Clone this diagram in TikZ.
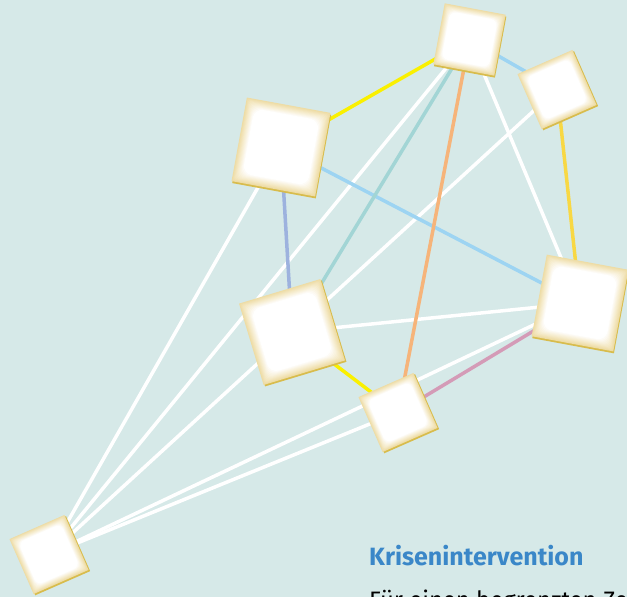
\documentclass[tikz,border=0pt]{standalone}
\usepackage{fontspec}
\setmainfont{Fira Sans}
\definecolor{bgc}{HTML}{D6E9E8}
\definecolor{tilecream}{HTML}{EEDCA4}
\definecolor{tileedge}{HTML}{D8BC4C}
\definecolor{cyel}{HTML}{FAF000}
\definecolor{cgold}{HTML}{F8D844}
\definecolor{cblue}{HTML}{9DD4F2}
\definecolor{cteal}{HTML}{A2D5D5}
\definecolor{corange}{HTML}{F6B47A}
\definecolor{cviolet}{HTML}{9DB2DE}
\definecolor{cpink}{HTML}{D49BB7}
\definecolor{ctitle}{HTML}{3A87C8}
\newcommand\mytile[4]{%
  \begin{scope}[shift={(#1,#2)}, rotate=#3]
    \fill[tileedge] (-#4+1.0,-#4+1.8) rectangle (#4+1.0,#4+1.8);
    \foreach \k in {0,...,12} {
      \pgfmathtruncatemacro\pp{min(100,\k*9)}
      \pgfmathsetmacro\dd{\k*#4/50}
      \fill[white!\pp!tilecream, rounded corners=\dd pt] (-#4+\dd,-#4+\dd) rectangle (#4-\dd,#4-\dd);
    }
  \end{scope}
}
\tikzset{ln/.style={line width=3.5pt}}
\begin{document}
\begin{tikzpicture}[x=1pt,y=-1pt]
\useasboundingbox (0,0) rectangle (627,597);
\clip (0,0) rectangle (627,597);
\fill[bgc] (0,0) rectangle (627,597);
% tile centres
\coordinate (A) at (469.5,39.5);
\coordinate (B) at (557,89.5);
\coordinate (C) at (281,147);
\coordinate (D) at (292,332);
\coordinate (E) at (398,412.5);
\coordinate (F) at (580,303);
\coordinate (G) at (49,554.5);
% connectors
\draw[ln, white] (G) -- (C);
\draw[ln, white] (G) -- (A);
\draw[ln, white] (G) -- (B);
\draw[ln, white] (G) -- (E);
\draw[ln, white] (G) -- (F);
\draw[ln, white] (A) -- (F);
\draw[ln, white] (D) -- (F);
\draw[ln, cblue] (C) -- (F);
\draw[ln, cteal] (A) -- (D);
\draw[ln, corange] (A) -- (E);
\draw[ln, cviolet] (C) -- (D);
\draw[ln, cpink] (E) -- (F);
\draw[ln, cyel] (C) -- (A);
\draw[ln, cyel] (D) -- (E);
\draw[ln, cblue] (A) -- (B);
\draw[ln, cgold] (B) -- (F);
% tiles
\mytile{469.5}{39.5}{-10.6}{31}
\mytile{557}{89.5}{23.7}{30}
\mytile{281}{147}{-10.4}{42.5}
\mytile{292}{332}{16.8}{42.5}
\mytile{398}{412.5}{23.7}{30}
\mytile{580}{303}{-10.5}{41.5}
\mytile{49}{554.5}{23.7}{30}
% text
\node[anchor=base west, inner sep=0pt, text=ctitle, font=\bfseries\fontsize{25}{30}\selectfont] (title) at (369,565.5) {Krisenintervention};
\node[anchor=base west, inner sep=0pt, text=black, font=\fontsize{23.8}{28}\selectfont] (body) at (369,608) {Für einen begrenzten Ze};
\end{tikzpicture}
\end{document}
